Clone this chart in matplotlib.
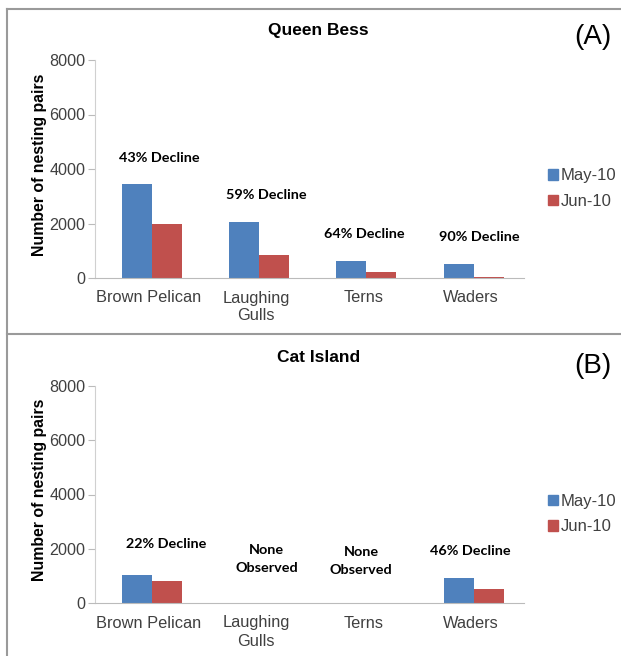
import matplotlib
matplotlib.use("Agg")
import matplotlib.pyplot as plt
from matplotlib.lines import Line2D
from matplotlib.patches import Patch
import numpy as np

plt.rcParams["font.family"] = ["Liberation Sans", "DejaVu Sans"]

# ── Data ─────────────────────────────────────────────────────────────────────
categories = ["Brown Pelican", "Laughing\nGulls", "Terns", "Waders"]
series = ["May-10", "Jun-10"]

qb_may = [3460, 2055, 635, 525]
qb_jun = [1970, 845, 225, 55]
ci_may = [1015, 0, 0, 905]
ci_jun = [795, 0, 0, 505]

qb_notes = ["43% Decline", "59% Decline", "64% Decline", "90% Decline"]
qb_note_x = [0.10, 1.10, 2.01, 3.08]
qb_note_y = [4400, 3050, 1620, 1490]

ci_notes = ["22% Decline", "None\nObserved", "None\nObserved", "46% Decline"]
ci_note_x = [0.16, 1.10, 1.98, 3.00]
ci_note_y = [2190, 1640, 1560, 1900]

BLUE = "#4F81BD"
RED = "#C0504D"
TXT = "#404040"

W, H = 621, 656
fig = plt.figure(figsize=(W / 100, H / 100), dpi=100)

def draw_panel(rect, title, tag, tag_y, may, jun, notes, nx, ny):
    ax = fig.add_axes(rect)
    x = np.arange(len(categories))
    w = 0.28
    ax.bar(x - w / 2 + 0.03, may, w, color=BLUE)
    ax.bar(x + w / 2 + 0.03, jun, w, color=RED)
    ax.set_xlim(-0.5, len(categories) - 0.5)
    ax.set_ylim(0, 8000)
    ax.set_yticks([0, 2000, 4000, 6000, 8000])
    ax.set_xticks(x)
    ax.set_xticklabels(categories, fontsize=11.8, color=TXT, linespacing=1.25)
    ax.tick_params(axis="x", length=0, pad=9)
    ax.tick_params(axis="y", length=5, color="#BBBBBB", labelsize=11.6,
                   labelcolor=TXT, pad=2)
    for s in ["top", "right"]:
        ax.spines[s].set_visible(False)
    ax.spines["left"].set_color("#D0D0D0")
    ax.spines["bottom"].set_color("#BBBBBB")
    ax.set_ylabel("Number of nesting pairs", fontsize=11.4, fontweight="bold",
                  color="black")
    ax.yaxis.set_label_coords(-0.112, 0.52)
    ax.text(0.52, 1 + 29 / 218, title, transform=ax.transAxes, ha="center",
            va="center", fontsize=12.5, fontweight="bold")
    for t, xx, yy in zip(notes, nx, ny):
        ax.text(xx, yy, t, ha="center", va="center", fontsize=10.4,
                fontweight="bold", family=["Lato", "DejaVu Sans"],
                linespacing=1.6)
    fig.text(593 / W, 1 - tag_y / H, tag, fontsize=20, ha="center",
             va="center")
    handles = [Patch(color=BLUE), Patch(color=RED)]
    fig.legend(handles, series, loc="center left",
               bbox_to_anchor=(540 / W, rect[1] + rect[3] * 0.41),
               frameon=False, fontsize=12, handlelength=0.6,
               handleheight=0.6, handletextpad=0.15, labelspacing=0.62,
               labelcolor=TXT, borderpad=0)
    return ax

draw_panel([95 / W, 1 - 278 / H, 429 / W, 218 / H], "Queen Bess", "(A)", 37,
           qb_may, qb_jun, qb_notes, qb_note_x, qb_note_y)
draw_panel([95 / W, 1 - 603 / H, 429 / W, 217 / H], "Cat Island", "(B)", 366,
           ci_may, ci_jun, ci_notes, ci_note_x, ci_note_y)

# panel frame lines
border = dict(color="#9A9A9A", linewidth=1.5, transform=fig.transFigure)
fig.add_artist(Line2D([7 / W, 1.0], [1 - 9 / H, 1 - 9 / H], **border))
fig.add_artist(Line2D([7 / W, 1.0], [1 - 334 / H, 1 - 334 / H], **border))
fig.add_artist(Line2D([7 / W, 7 / W], [0.0, 1 - 9 / H], **border))

fig.savefig("out.png", dpi=100)
